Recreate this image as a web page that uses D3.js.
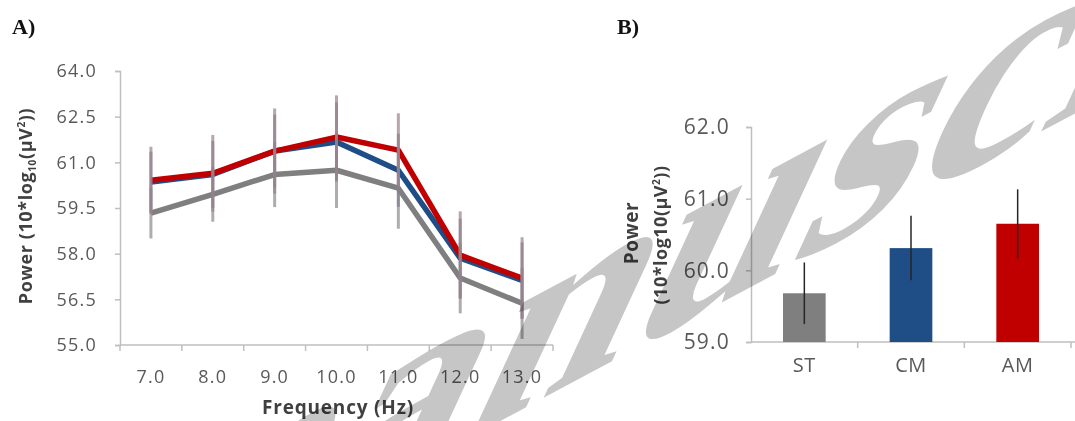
<!DOCTYPE html>
<html>
<head>
<meta charset="utf-8">
<script src="https://cdn.jsdelivr.net/npm/d3@7"></script>
<style>
  body { margin: 0; background: #fff; }
  text { font-family: "Open Sans", "Noto Sans", sans-serif; }
</style>
</head>
<body>
<svg id="chart" width="1075" height="421"></svg>
<script>
// panel A data
const freqs = ['7.0', '8.0', '9.0', '10.0', '11.0', '12.0', '13.0'];
const stMean = [59.33, 59.95, 60.6, 60.74, 60.15, 57.2, 56.37];
const cmMean = [60.35, 60.6, 61.37, 61.67, 60.74, 57.85, 57.12];
const amMean = [60.41, 60.64, 61.37, 61.83, 61.4, 57.95, 57.2];
const stErr = [0.83, 0.9, 1.07, 1.24, 1.33, 1.16, 1.17];
const cmErr = [1.0, 1.1, 1.2, 1.3, 1.2, 1.3, 1.25];
const amErr = [1.1, 1.26, 1.4, 1.37, 1.21, 1.44, 1.34];
const powerTicks = [55, 56.5, 58, 59.5, 61, 62.5, 64];

// panel B data
const groups = ['ST', 'CM', 'AM'];
const groupMean = [59.68, 60.31, 60.65];
const groupErr = [0.43, 0.45, 0.48];
const groupTicks = [59, 60, 61, 62];

const colors = ['#7f7f7f', '#1f4e86', '#c00000'];
const errColors = ['#8e8a8d', '#7d8090', '#9d7f8a'];

const svg = d3.select('#chart');
svg.append('rect').attr('width', 1075).attr('height', 421).attr('fill', '#fff');

const fmt = d3.format('.1f');
const axisColor = '#bfbfbf';
const labelColor = '#595959';

function styleAxis(ax, size) {
    ax.select('.domain').attr('stroke', axisColor).attr('stroke-width', 1.5);
    ax.selectAll('.tick line').attr('stroke', axisColor).attr('stroke-width', 1.5);
    ax.selectAll('.tick text')
        .attr('fill', labelColor)
        .style('font-size', size + 'px')
        .style('letter-spacing', '1.2px');
}

// ---------- Panel A ----------
const xA = d3.scaleBand().domain(freqs).range([120, 553]);
const yA = d3.scaleLinear().domain([55, 64]).range([345, 71]);

const gA = svg.append('g');

const yAxisA = gA.append('g')
    .attr('transform', 'translate(120,0)')
    .call(d3.axisLeft(yA).tickValues(powerTicks).tickFormat(fmt).tickSize(5).tickPadding(18));
const xAxisA = gA.append('g')
    .attr('transform', 'translate(0,345)')
    .call(d3.axisBottom(xA).tickSize(0).tickPadding(25));
styleAxis(yAxisA, 18);
styleAxis(xAxisA, 18);
xAxisA.select('.domain').attr('d', 'M120,0H553');

// Excel style ticks between the categories
gA.selectAll('.xtick')
    .data(freqs.concat(['end']))
    .enter()
    .append('line')
    .attr('x1', (d, i) => (i < freqs.length ? xA(d) : xA.range()[1]))
    .attr('x2', (d, i) => (i < freqs.length ? xA(d) : xA.range()[1]))
    .attr('y1', 345)
    .attr('y2', 351)
    .attr('stroke', axisColor)
    .attr('stroke-width', 1.5);

const seriesA = [
    { mean: stMean, err: stErr },
    { mean: cmMean, err: cmErr },
    { mean: amMean, err: amErr },
];

const cx = (d) => xA(d) + xA.bandwidth() / 2;
const line = d3.line()
    .x((d, i) => cx(freqs[i]))
    .y((d) => yA(d));

seriesA.forEach((s, k) => {
    gA.append('path')
        .datum(s.mean)
        .attr('d', line)
        .attr('fill', 'none')
        .attr('stroke', colors[k])
        .attr('stroke-width', 5.5)
        .attr('stroke-linejoin', 'round');
});

seriesA.forEach((s, k) => {
    gA.selectAll('.err' + k)
        .data(s.mean)
        .enter()
        .append('line')
        .attr('x1', (d, i) => cx(freqs[i]))
        .attr('x2', (d, i) => cx(freqs[i]))
        .attr('y1', (d, i) => yA(d - s.err[i]))
        .attr('y2', (d, i) => yA(d + s.err[i]))
        .attr('stroke', errColors[k])
        .attr('stroke-width', 3)
        .attr('opacity', 0.7);
});

// y title A
const titleA = gA.append('text')
    .attr('transform', 'translate(32,206) rotate(-90)')
    .attr('text-anchor', 'middle')
    .attr('fill', '#404040')
    .style('font-size', '18px')
    .style('font-weight', 'bold')
    .style('letter-spacing', '0.6px');
titleA.append('tspan').text('Power (10*log');
titleA.append('tspan').attr('dy', 4).style('font-size', '10px').text('10');
titleA.append('tspan').attr('dy', -4).text('(\u00b5V');
titleA.append('tspan').attr('dy', -7).style('font-size', '10px').text('2');
titleA.append('tspan').attr('dy', 7).text('))');

gA.append('text')
    .attr('x', 338)
    .attr('y', 414)
    .attr('text-anchor', 'middle')
    .attr('fill', '#404040')
    .style('font-size', '19px')
    .style('font-weight', 'bold')
    .style('letter-spacing', '0.8px')
    .text('Frequency (Hz)');

svg.append('text')
    .attr('x', 12)
    .attr('y', 34)
    .style('font-family', '"Liberation Serif", serif')
    .style('font-size', '22px')
    .style('font-weight', 'bold')
    .attr('fill', '#111')
    .text('A)');

// ---------- Panel B ----------
const xB = d3.scaleBand().domain(groups).range([751, 1071]).paddingInner(0.6).paddingOuter(0.3);
const yB = d3.scaleLinear().domain([59, 62]).range([342, 127]);
const gB = svg.append('g');

const yAxisB = gB.append('g')
    .attr('transform', 'translate(751,0)')
    .call(d3.axisLeft(yB).tickValues(groupTicks).tickFormat(fmt).tickSize(5).tickPadding(16));
const xAxisB = gB.append('g')
    .attr('transform', 'translate(0,342)')
    .call(d3.axisBottom(xB).tickSize(0).tickPadding(16));
styleAxis(yAxisB, 21);
styleAxis(xAxisB, 20);
xAxisB.selectAll('.tick text').style('letter-spacing', '0.5px');
xAxisB.select('.domain').attr('d', 'M751,0H1075');

const stepB = xB.step();
gB.selectAll('.xtickB')
    .data(groups)
    .enter()
    .append('line')
    .attr('x1', (d) => xB(d) + xB.bandwidth() / 2 + stepB / 2)
    .attr('x2', (d) => xB(d) + xB.bandwidth() / 2 + stepB / 2)
    .attr('y1', 342)
    .attr('y2', 348)
    .attr('stroke', axisColor)
    .attr('stroke-width', 1.5);

gB.selectAll('.bar')
    .data(groupMean)
    .enter()
    .append('rect')
    .attr('x', (d, i) => xB(groups[i]))
    .attr('width', xB.bandwidth())
    .attr('y', (d) => yB(d))
    .attr('height', (d) => yB(59) - yB(d))
    .attr('fill', (d, i) => colors[i]);

gB.selectAll('.errB')
    .data(groupMean)
    .enter()
    .append('line')
    .attr('x1', (d, i) => xB(groups[i]) + xB.bandwidth() / 2)
    .attr('x2', (d, i) => xB(groups[i]) + xB.bandwidth() / 2)
    .attr('y1', (d, i) => yB(d - groupErr[i]))
    .attr('y2', (d, i) => yB(d + groupErr[i]))
    .attr('stroke', '#262626')
    .attr('stroke-width', 1.5);

gB.append('text')
    .attr('transform', 'translate(638,233) rotate(-90)')
    .attr('text-anchor', 'middle')
    .attr('fill', '#404040')
    .style('font-size', '19px')
    .style('font-weight', 'bold')
    .style('letter-spacing', '0.5px')
    .text('Power');
const titleB = gB.append('text')
    .attr('transform', 'translate(667,235) rotate(-90)')
    .attr('text-anchor', 'middle')
    .attr('fill', '#404040')
    .style('font-size', '18px')
    .style('font-weight', 'bold')
    .style('letter-spacing', '0.5px');
titleB.append('tspan').text('(10*log10(\u00b5V');
titleB.append('tspan').attr('dy', -7).style('font-size', '10px').text('2');
titleB.append('tspan').attr('dy', 7).text('))');

svg.append('text')
    .attr('x', 617)
    .attr('y', 34)
    .style('font-family', '"Liberation Serif", serif')
    .style('font-size', '22px')
    .style('font-weight', 'bold')
    .attr('fill', '#111')
    .text('B)');

// watermark, sheared diagonal text
svg.append('text')
    .attr('transform', 'matrix(0.882,-0.472,-0.42,0.907,50,662)')
    .style('font-family', '"Liberation Serif", serif')
    .style('font-size', '340px')
    .style('font-weight', 'bold')
    .style('mix-blend-mode', 'multiply')
    .attr('fill', '#c6c6c6')
    .text('manuscript');
</script>
</body>
</html>
